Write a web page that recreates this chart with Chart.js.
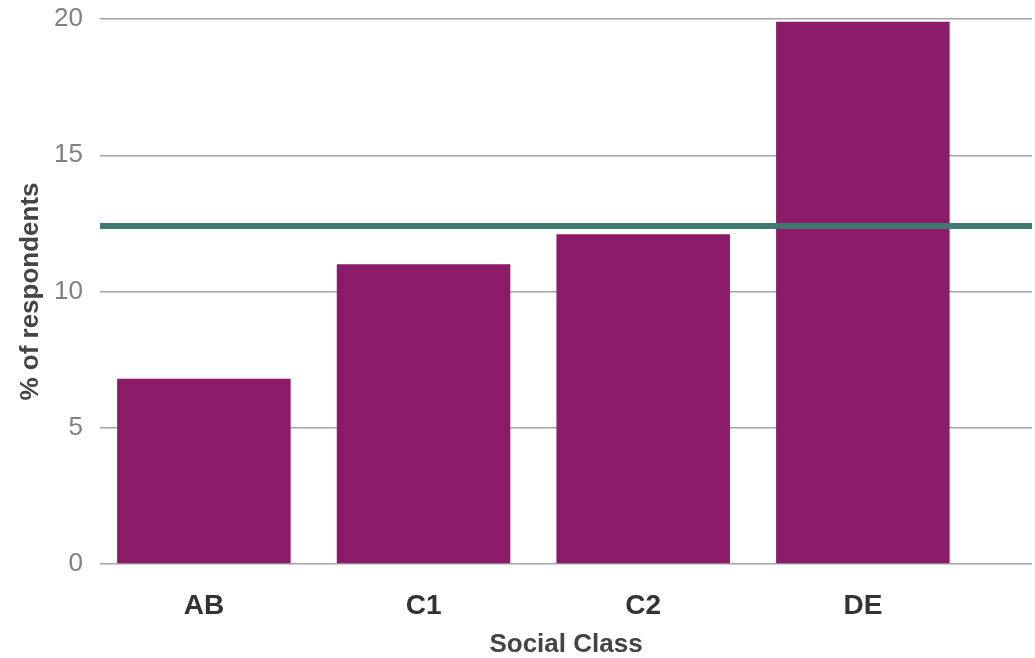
<!DOCTYPE html>
<html>
<head>
<meta charset="utf-8">
<script src="https://cdn.jsdelivr.net/npm/chart.js@4/dist/chart.umd.min.js"></script>
<style>
  html, body { margin: 0; padding: 0; background: #ffffff; }
  #wrap { width: 1035px; height: 658px; position: relative; }
</style>
</head>
<body>
<div id="wrap"><canvas id="c" width="1035" height="658"></canvas></div>
<script>
const categories = ['AB', 'C1', 'C2', 'DE'];
const respondentsPct = [6.8, 11.0, 12.1, 19.9];
const averageLevel = 12.4;
const yTicks = [0, 5, 10, 15, 20];

const barData = categories.map((c, i) => ({ x: i, y: respondentsPct[i] }));
const xMin = -0.473, xMax = 3.77;
const avgData = [{ x: xMin, y: averageLevel }, { x: xMax, y: averageLevel }];

new Chart(document.getElementById('c'), {
  type: 'bar',
  data: {
    datasets: [
      {
        type: 'line',
        data: avgData,
        borderColor: '#3f7b70',
        borderWidth: 6,
        pointRadius: 0,
        borderCapStyle: 'butt',
        order: 0
      },
      {
        type: 'bar',
        data: barData,
        backgroundColor: '#8b1a68',
        borderWidth: 0,
        barPercentage: 0.79,
        categoryPercentage: 1,
        order: 1
      }
    ]
  },
  options: {
    responsive: false,
    animation: false,
    layout: { padding: { top: 0, right: 3, left: 0, bottom: 0 } },
    plugins: { legend: { display: false }, tooltip: { enabled: false } },
    scales: {
      x: {
        type: 'linear',
        min: xMin,
        max: xMax,
        offset: false,
        afterBuildTicks: (s) => { s.ticks = categories.map((c, i) => ({ value: i })); },
        afterFit: (s) => { s.height = 94; },
        grid: { display: false },
        border: { display: false },
        ticks: {
          callback: (v) => categories[v] !== undefined ? categories[v] : '',
          color: '#333333',
          font: { family: 'Liberation Sans', size: 28, weight: 'bold' },
          padding: 17,
          maxRotation: 0
        },
        title: {
          display: true,
          text: 'Social Class',
          color: '#444444',
          font: { family: 'Liberation Sans', size: 26, weight: 'bold' },
          padding: { top: 4, bottom: -2 }
        }
      },
      y: {
        min: 0,
        max: 20,
        afterBuildTicks: (s) => { s.ticks = yTicks.map(v => ({ value: v })); },
        afterFit: (s) => { s.width = 100; s.paddingTop = 19; },
        grid: { color: '#a3a3a3', lineWidth: 1.5, drawTicks: false },
        border: { display: false },
        ticks: {
          color: '#808080',
          font: { family: 'Liberation Sans', size: 26 },
          padding: 17
        },
        title: {
          display: true,
          text: '% of respondents',
          color: '#444444',
          font: { family: 'Liberation Sans', size: 26, weight: 'bold' },
          padding: { top: 15, bottom: 0 }
        }
      }
    }
  }
});
</script>
</body>
</html>
